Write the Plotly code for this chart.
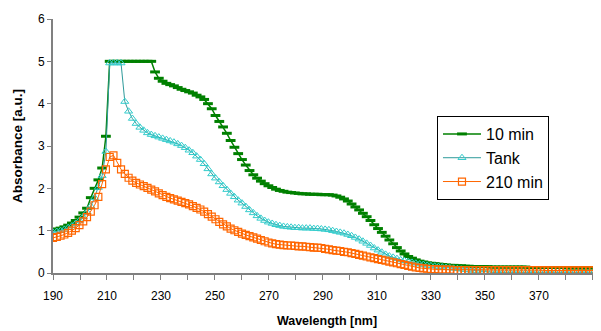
import plotly.graph_objects as go

# Wavelength sampling (nm) - categories of the spectrum
wavelength = [round(190 + 1.4 * i, 1) for i in range(146)]

abs_10min = [
    1.02, 1.04, 1.06, 1.09, 1.13, 1.18, 1.24, 1.32, 1.42, 1.53,
    1.78, 2.00, 2.20, 2.48, 3.23, 5.00, 5.00, 5.00, 5.00, 5.00,
    5.00, 5.00, 5.00, 5.00, 5.00, 5.00, 5.00, 4.75, 4.60, 4.53,
    4.48, 4.45, 4.42, 4.38, 4.34, 4.31, 4.28, 4.25, 4.20, 4.16,
    4.10, 4.00, 3.88, 3.72, 3.58, 3.45, 3.30, 3.13, 2.97, 2.82,
    2.68, 2.55, 2.42, 2.32, 2.24, 2.17, 2.11, 2.06, 2.02, 1.98,
    1.95, 1.93, 1.91, 1.90, 1.89, 1.88, 1.87, 1.87, 1.86, 1.86,
    1.86, 1.85, 1.85, 1.85, 1.84, 1.82, 1.79, 1.75, 1.70, 1.63,
    1.56, 1.49, 1.41, 1.33, 1.24, 1.14, 1.05, 0.96, 0.87, 0.78,
    0.69, 0.60, 0.52, 0.45, 0.39, 0.35, 0.31, 0.28, 0.26, 0.24,
    0.23, 0.22, 0.21, 0.20, 0.19, 0.18, 0.18, 0.17, 0.17, 0.16,
    0.16, 0.15, 0.15, 0.15, 0.15, 0.15, 0.14, 0.14, 0.14, 0.14,
    0.14, 0.14, 0.14, 0.14, 0.14, 0.14, 0.13, 0.13, 0.13, 0.13,
    0.13, 0.13, 0.13, 0.13, 0.13, 0.13, 0.12, 0.12, 0.12, 0.12,
    0.12, 0.12, 0.12, 0.12, 0.12, 0.12,
]

abs_tank = [
    0.96, 0.98, 1.00, 1.03, 1.07, 1.11, 1.17, 1.24, 1.33, 1.44,
    1.58, 1.78, 2.02, 2.30, 2.87, 4.96, 4.96, 4.96, 4.96, 4.05,
    3.82, 3.65, 3.53, 3.44, 3.37, 3.31, 3.27, 3.24, 3.21, 3.18,
    3.15, 3.12, 3.09, 3.05, 3.01, 2.96, 2.90, 2.84, 2.76, 2.68,
    2.58, 2.46, 2.34, 2.24, 2.15, 2.06, 1.97, 1.88, 1.80, 1.72,
    1.65, 1.57, 1.49, 1.42, 1.35, 1.29, 1.24, 1.20, 1.17, 1.14,
    1.12, 1.10, 1.09, 1.08, 1.07, 1.07, 1.06, 1.06, 1.06, 1.05,
    1.05, 1.04, 1.03, 1.02, 1.00, 0.98, 0.96, 0.94, 0.91, 0.88,
    0.84, 0.80, 0.75, 0.70, 0.65, 0.59, 0.54, 0.49, 0.44, 0.40,
    0.37, 0.34, 0.31, 0.29, 0.27, 0.25, 0.23, 0.21, 0.20, 0.18,
    0.17, 0.16, 0.15, 0.14, 0.13, 0.12, 0.11, 0.10, 0.09, 0.08,
    0.07, 0.06, 0.05, 0.04, 0.03, 0.02, 0.02, 0.01, 0.01, 0.01,
    0.01, 0.01, 0.01, 0.01, 0.01, 0.01, 0.01, 0.01, 0.01, 0.01,
    0.01, 0.01, 0.01, 0.01, 0.01, 0.01, 0.01, 0.01, 0.01, 0.01,
    0.01, 0.01, 0.01, 0.01, 0.01, 0.01,
]

abs_210min = [
    0.83, 0.85, 0.88, 0.91, 0.95, 1.00, 1.06, 1.13, 1.22, 1.32,
    1.45, 1.60, 1.80, 2.10, 2.45, 2.74, 2.78, 2.60, 2.45, 2.34,
    2.25, 2.18, 2.13, 2.09, 2.05, 2.01, 1.97, 1.93, 1.88, 1.84,
    1.80, 1.77, 1.74, 1.71, 1.68, 1.65, 1.62, 1.58, 1.54, 1.50,
    1.45, 1.39, 1.33, 1.27, 1.21, 1.15, 1.10, 1.05, 1.01, 0.97,
    0.93, 0.90, 0.87, 0.84, 0.81, 0.78, 0.75, 0.72, 0.70, 0.68,
    0.67, 0.66, 0.65, 0.65, 0.64, 0.63, 0.63, 0.62, 0.61, 0.60,
    0.60, 0.59, 0.57, 0.56, 0.54, 0.53, 0.52, 0.50, 0.49, 0.47,
    0.45, 0.43, 0.41, 0.39, 0.37, 0.35, 0.33, 0.31, 0.29, 0.27,
    0.25, 0.23, 0.21, 0.19, 0.17, 0.15, 0.13, 0.12, 0.11, 0.10,
    0.09, 0.09, 0.08, 0.08, 0.08, 0.08, 0.07, 0.07, 0.07, 0.07,
    0.07, 0.07, 0.07, 0.07, 0.07, 0.07, 0.07, 0.07, 0.07, 0.07,
    0.07, 0.07, 0.07, 0.07, 0.07, 0.07, 0.07, 0.07, 0.07, 0.07,
    0.06, 0.06, 0.06, 0.06, 0.06, 0.06, 0.06, 0.06, 0.06, 0.06,
    0.06, 0.06, 0.06, 0.06, 0.06, 0.06,
]

x_tick_vals = [190, 210, 230, 250, 270, 290, 310, 330, 350, 370]
y_tick_vals = [0, 1, 2, 3, 4, 5, 6]

FONT = "Arial, 'Liberation Sans', sans-serif"

fig = go.Figure()
fig.add_trace(go.Scatter(
    x=wavelength, y=abs_10min, name="10 min", mode="lines+markers",
    line=dict(color="#008000", width=1.5),
    marker=dict(symbol="line-ew", size=7, color="#008000",
                line=dict(color="#008000", width=3)),
))
fig.add_trace(go.Scatter(
    x=wavelength, y=abs_tank, name="Tank", mode="lines+markers",
    line=dict(color="#2E9A9A", width=1),
    marker=dict(symbol="triangle-up-open", size=7, color="#33CCCC",
                line=dict(color="#33CCCC", width=1)),
))
fig.add_trace(go.Scatter(
    x=wavelength, y=abs_210min, name="210 min", mode="lines+markers",
    line=dict(color="#FF6600", width=1),
    marker=dict(symbol="square-open", size=7, color="#FF6600",
                line=dict(color="#FF6600", width=1.2)),
))

fig.update_layout(
    width=593, height=323,
    margin=dict(l=45, r=0, t=11, b=58),
    paper_bgcolor="white", plot_bgcolor="white",
    font=dict(family=FONT, size=12, color="#000000"),
    showlegend=True,
    legend=dict(
        x=0.7007, y=0.618, xanchor="left", yanchor="top",
        bordercolor="#000000", borderwidth=1, bgcolor="white",
        font=dict(family=FONT, size=16, color="#000000"),
        itemwidth=38, traceorder="normal",
    ),
    xaxis=dict(
        range=[190, 393], tickvals=x_tick_vals, ticktext=[str(v) for v in x_tick_vals],
        automargin=False,
        showgrid=False, zeroline=False,
        showline=True, linecolor="#808080", linewidth=2,
        ticks="outside", ticklen=5, tickcolor="#808080", tickwidth=1,
        minor=dict(dtick=10, tick0=190, ticks="outside", ticklen=5,
                   tickcolor="#808080", showgrid=False),
        ticklabelstandoff=6,
        tickfont=dict(family=FONT, size=12, color="#000000"),
        title=dict(text="<b>Wavelength [nm]</b>", standoff=14,
                   font=dict(family=FONT, size=12.5, color="#000000")),
    ),
    yaxis=dict(
        range=[0, 6], tickvals=y_tick_vals,
        automargin=False,
        showgrid=False, zeroline=False,
        showline=True, linecolor="#808080", linewidth=2,
        ticks="outside", ticklen=4, tickcolor="#808080", tickwidth=1,
        tickfont=dict(family=FONT, size=12, color="#000000"),
        title=dict(text="<b>Absorbance [a.u.]</b>", standoff=12,
                   font=dict(family=FONT, size=13.5, color="#000000")),
    ),
)

fig.write_html("out.html")
